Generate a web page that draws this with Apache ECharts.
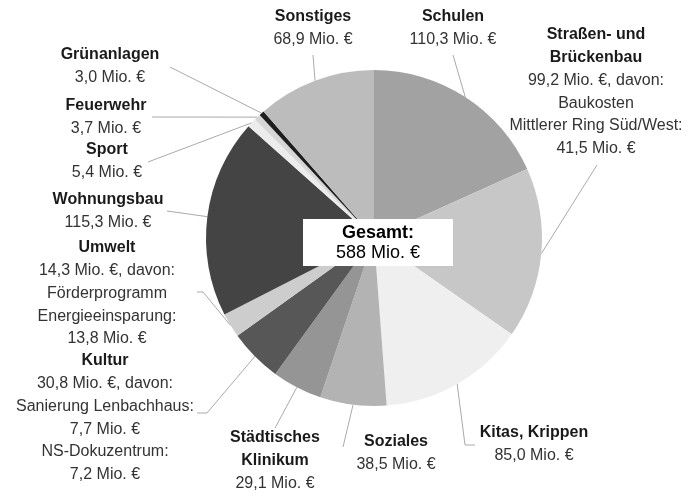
<!DOCTYPE html>
<html>
<head>
<meta charset="utf-8">
<script src="https://cdn.jsdelivr.net/npm/echarts@6/dist/echarts.min.js"></script>
<style>html,body{margin:0;padding:0;background:#fff;}#c{width:690px;height:493px;}</style>
</head>
<body>
<div id="c"></div>
<script>
// ---- data ----
const categories = ['Schulen', 'Straßen- und Brückenbau', 'Kitas, Krippen', 'Soziales', 'Städtisches Klinikum', 'Kultur', 'Umwelt', 'Wohnungsbau', 'Sport', 'Feuerwehr', 'Grünanlagen', 'Sonstiges'];
const values = [110.3, 99.2, 85.0, 38.5, 29.1, 30.8, 14.3, 115.3, 5.4, 3.7, 3.0, 68.9];
const titleLines = [['Schulen'], ['Straßen- und', 'Brückenbau'], ['Kitas, Krippen'], ['Soziales'], ['Städtisches', 'Klinikum'], ['Kultur'], ['Umwelt'], ['Wohnungsbau'], ['Sport'], ['Feuerwehr'], ['Grünanlagen'], ['Sonstiges']];
const subLines = [[], ['Baukosten', 'Mittlerer Ring Süd/West:', '41,5 Mio. €'], [], [], [], ['Sanierung Lenbachhaus:', '7,7 Mio. €', 'NS-Dokuzentrum:', '7,2 Mio. €'], ['Förderprogramm', 'Energieeinsparung:', '13,8 Mio. €'], [], [], [], [], []];
const totalTitle = 'Gesamt:';
const totalText = '588 Mio. €';

// ---- styles / layout ----
const colors = ['#a2a2a2', '#c7c7c7', '#efefef', '#b3b3b3', '#959595', '#575757', '#cdcdcd', '#444444', '#ececec', '#d6d6d6', '#1e1e1e', '#bcbcbc'];
const LH = 22.7;
const labelPos = [
  {x: 453, y: 17, line: [[453, 55]]},
  {x: 596, y: 35, line: [[597, 165]]},
  {x: 534, y: 433, line: [[465, 445], [475, 445]]},
  {x: 396, y: 442, line: [[343, 447]]},
  {x: 275, y: 438, line: [[275, 428]]},
  {x: 105, y: 361, line: [[207, 413], [197, 413]]},
  {x: 107, y: 248, line: [[203, 292], [197, 292]]},
  {x: 108, y: 200, line: [[167, 211]]},
  {x: 107, y: 150, line: [[148, 162]]},
  {x: 106, y: 106, line: [[152, 117]]},
  {x: 110, y: 55, line: [[170, 67]]},
  {x: 313, y: 17, line: [[313, 55]]}
];

function fmt(v) { return v.toFixed(1).replace('.', ',') + ' Mio. €'; }

const data = categories.map((c, i) => ({
  name: c,
  value: values[i],
  itemStyle: {color: colors[i]}
}));

const FONT = 'Liberation Sans, Arial, sans-serif';
const chart = echarts.init(document.getElementById('c'), null, {renderer: 'canvas'});
chart.setOption({
  animation: false,
  backgroundColor: '#ffffff',
  series: [{
    type: 'pie',
    center: [374, 238],
    radius: 168,
    startAngle: 90,
    clockwise: true,
    avoidLabelOverlap: false,
    data: data,
    label: {
      show: true,
      position: 'outside',
      formatter: function (p) {
        const i = p.dataIndex;
        const t = titleLines[i].map(s => '{b|' + s + '}');
        let vline = fmt(values[i]);
        if (subLines[i].length) vline += ', davon:';
        const v = [vline].concat(subLines[i]).map(s => '{v|' + s + '}');
        return t.concat(v).join('\n');
      },
      rich: {
        b: {fontFamily: FONT, fontWeight: 'bold', fontSize: 16, lineHeight: LH, color: '#1a1a1a', align: 'center'},
        v: {fontFamily: FONT, fontSize: 16, lineHeight: LH, color: '#333333', align: 'center'}
      }
    },
    labelLine: {show: true, length: 10, length2: 10, lineStyle: {color: '#aaaaaa', width: 1}},
    labelLayout: function (params) {
      const i = params.dataIndex;
      const lp = labelPos[i];
      const start = params.labelLinePoints ? params.labelLinePoints[0] : [lp.x, lp.y];
      const pts = [start].concat(lp.line);
      while (pts.length < 3) pts.splice(1, 0, pts[1]);
      return {
        x: lp.x,
        y: lp.y - LH / 2,
        align: 'center',
        verticalAlign: 'top',
        labelLinePoints: pts
      };
    },
    emphasis: {disabled: true}
  }],
  graphic: {
    elements: [
      {type: 'rect', z: 100, left: 303, top: 219, shape: {width: 150, height: 47}, style: {fill: '#ffffff'}},
      {type: 'text', z: 101, x: 378, y: 233, style: {text: totalTitle, fill: '#000', fontFamily: FONT, fontWeight: 'bold', fontSize: 18, align: 'center', verticalAlign: 'middle'}},
      {type: 'text', z: 101, x: 378, y: 253, style: {text: totalText, fill: '#000', fontFamily: FONT, fontSize: 18, align: 'center', verticalAlign: 'middle'}}
    ]
  }
});
</script>
</body>
</html>
